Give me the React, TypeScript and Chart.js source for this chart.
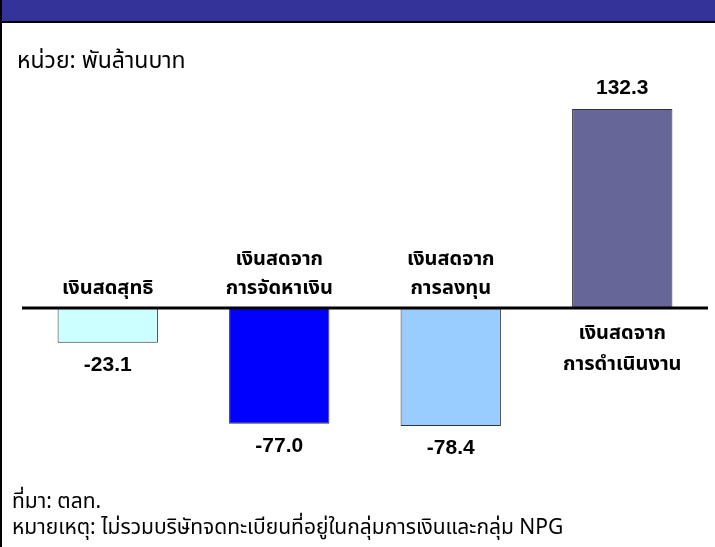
import React, { useEffect, useRef } from "react";
import { Chart, registerables } from "chart.js";

Chart.register(...registerables);

const categories: string[][] = [
  ["เงินสดสุทธิ"],
  ["เงินสดจาก", "การจัดหาเงิน"],
  ["เงินสดจาก", "การลงทุน"],
  ["เงินสดจาก", "การดำเนินงาน"],
];
const values: number[] = [-23.1, -77.0, -78.4, 132.3];
const barColors: string[] = ["#CCFFFF", "#0000FF", "#99CCFF", "#666699"];
const unitText = "หน่วย: พันล้านบาท";
const sourceText = "ที่มา: ตลท.";
const noteText = "หมายเหตุ: ไม่รวมบริษัทจดทะเบียนที่อยู่ในกลุ่มการเงินและกลุ่ม NPG";

const THAI_FONT = 'Tahoma, "Noto Sans Thai", "Noto Sans", sans-serif';

const framePlugin = {
  id: "frame",
  beforeDraw(chart: any) {
    const ctx = chart.ctx;
    const w = chart.width;
    const h = chart.height;
    ctx.save();
    ctx.fillStyle = "#ffffff";
    ctx.fillRect(0, 0, w, h);
    ctx.fillStyle = "#333399";
    ctx.fillRect(0, 0, w, 21);
    ctx.fillStyle = "#000000";
    ctx.fillRect(0, 21, w, 2);
    ctx.fillRect(0, 0, 2, h);
    ctx.fillStyle = "#000000";
    ctx.textAlign = "left";
    ctx.textBaseline = "alphabetic";
    ctx.font = `23px ${THAI_FONT}`;
    ctx.fillText(unitText, 17, 68);
    ctx.font = `21px ${THAI_FONT}`;
    ctx.fillText(sourceText, 12, 508);
    ctx.fillText(noteText, 12, 534);
    ctx.restore();
  },
  afterDatasetsDraw(chart: any) {
    const ctx = chart.ctx;
    const y = chart.scales.y;
    const zero = y.getPixelForValue(0);
    ctx.save();
    ctx.fillStyle = "#000000";
    ctx.fillRect(22, zero - 1.5, 686, 3);
    const meta = chart.getDatasetMeta(0);
    meta.data.forEach((bar: any, i: number) => {
      const v = values[i];
      const x = bar.x;
      ctx.textAlign = "center";
      ctx.textBaseline = "middle";
      ctx.fillStyle = "#000000";
      ctx.font = 'bold 21px "Liberation Sans", Arial, sans-serif';
      const label = v.toFixed(1);
      if (v >= 0) {
        ctx.fillText(label, x, bar.y - 21);
      } else {
        ctx.fillText(label, x, bar.y + 22);
      }
      ctx.font = `bold 20px ${THAI_FONT}`;
      const lines = categories[i];
      if (v < 0) {
        const n = lines.length;
        lines.forEach((ln, k) => {
          ctx.fillText(ln, x, zero - 18 - (n - 1 - k) * 29);
        });
      } else {
        lines.forEach((ln, k) => {
          ctx.fillText(ln, x, zero + 27 + k * 31);
        });
      }
    });
    ctx.restore();
  },
};

export default function App() {
  const ref = useRef<HTMLCanvasElement | null>(null);
  useEffect(() => {
    if (!ref.current) return;
    const chart = new Chart(ref.current, {
      type: "bar",
      data: {
        labels: categories.map((c) => c.join(" ")),
        datasets: [
          {
            data: values,
            backgroundColor: barColors,
            borderColor: "#333333",
            borderWidth: 1,
            barPercentage: 0.585,
            categoryPercentage: 1,
          },
        ],
      },
      options: {
        animation: false,
        responsive: false,
        maintainAspectRatio: false,
        events: [],
        layout: { padding: { left: 22, right: 7, top: 82.4, bottom: 88.6 } },
        plugins: {
          legend: { display: false },
          tooltip: { enabled: false },
          title: { display: false },
        },
        scales: {
          x: { display: false, grid: { display: false } },
          y: { display: false, min: -100, max: 150, grid: { display: false } },
        },
      },
      plugins: [framePlugin],
    });
    return () => chart.destroy();
  }, []);
  return (
    <div style={{ position: "fixed", left: 0, top: 0, width: 715, height: 547 }}>
      <canvas ref={ref} width={715} height={547} style={{ width: 715, height: 547, display: "block" }} />
    </div>
  );
}
